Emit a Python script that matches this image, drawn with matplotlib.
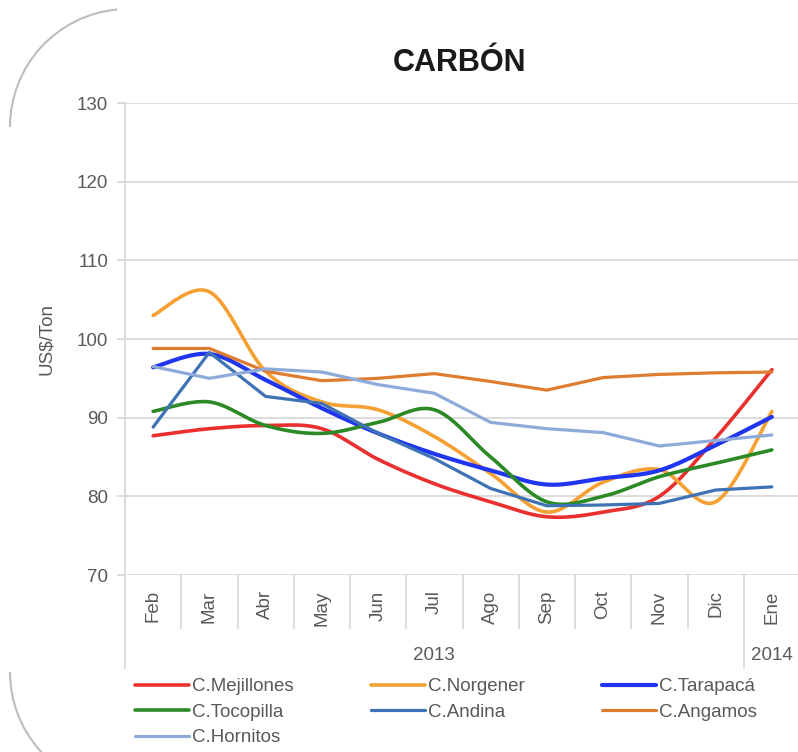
import numpy as np
import matplotlib.pyplot as plt
from matplotlib.patches import Arc
import matplotlib.transforms as mtransforms

plt.rcParams['font.family'] = ['Liberation Sans', 'DejaVu Sans']

# --- data (US$/Ton, Feb 2013 .. Ene 2014) ---
months = ['Feb', 'Mar', 'Abr', 'May', 'Jun', 'Jul', 'Ago', 'Sep', 'Oct', 'Nov', 'Dic', 'Ene']
mejillones = [87.7, 88.6, 89.0, 88.6, 84.7, 81.6, 79.3, 77.4, 78.0, 80.0, 87.4, 96.1]
norgener = [103.0, 106.0, 95.9, 92.0, 91.0, 87.6, 82.9, 78.0, 81.8, 83.4, 79.3, 90.8]
tarapaca = [96.4, 98.1, 94.8, 91.2, 88.0, 85.4, 83.3, 81.5, 82.3, 83.3, 86.5, 90.1]
tocopilla = [90.8, 92.0, 89.0, 88.0, 89.4, 91.0, 85.0, 79.3, 80.0, 82.5, 84.2, 85.9]
andina = [88.8, 98.3, 92.7, 91.8, 88.0, 84.8, 81.0, 78.8, 78.9, 79.1, 80.8, 81.2]
angamos = [98.8, 98.8, 95.9, 94.7, 95.0, 95.6, 94.6, 93.5, 95.1, 95.5, 95.7, 95.8]
hornitos = [96.5, 95.0, 96.2, 95.8, 94.2, 93.1, 89.4, 88.6, 88.1, 86.4, 87.1, 87.8]

series = [
    ('C.Mejillones', mejillones, '#EA2F2F', 2.6, True),
    ('C.Norgener', norgener, '#F5A033', 2.6, True),
    ('C.Tarapacá', tarapaca, '#1F35F0', 3.0, True),
    ('C.Tocopilla', tocopilla, '#2B8A26', 2.6, True),
    ('C.Andina', andina, '#3E72B5', 2.3, False),
    ('C.Angamos', angamos, '#DE7C30', 2.3, False),
    ('C.Hornitos', hornitos, '#8EAAD8', 2.3, False),
]


def smooth(x, y, n=24):
    # Excel-like smoothed line: cubic Bezier through the points
    x = np.asarray(x, float)
    y = np.asarray(y, float)
    px = np.concatenate([[x[0]], x, [x[-1]]])
    py = np.concatenate([[y[0]], y, [y[-1]]])
    xs, ys = [], []
    t = np.linspace(0, 1, n)
    for i in range(1, len(px) - 2):
        p0 = np.array([px[i - 1], py[i - 1]])
        p1 = np.array([px[i], py[i]])
        p2 = np.array([px[i + 1], py[i + 1]])
        p3 = np.array([px[i + 2], py[i + 2]])
        c1 = p1 + (p2 - p0) / 6
        c2 = p2 - (p3 - p1) / 6
        b = (((1 - t) ** 3)[:, None] * p1 + (3 * (1 - t) ** 2 * t)[:, None] * c1
             + (3 * (1 - t) * t ** 2)[:, None] * c2 + (t ** 3)[:, None] * p2)
        xs.extend(b[:, 0])
        ys.extend(b[:, 1])
    return np.array(xs), np.array(ys)


fig = plt.figure(figsize=(7.98, 7.52), dpi=100)
ax = fig.add_axes([125 / 798, 1 - 575 / 752, 675 / 798, 472 / 752])

x = np.arange(len(months))
handles = {}
for name, vals, color, lw, smoothed in series:
    if smoothed:
        sx, sy = smooth(x, vals)
    else:
        sx, sy = x, vals
    ln, = ax.plot(sx, sy, color=color, lw=lw, solid_capstyle='round',
                  solid_joinstyle='round', label=name)
    handles[name] = ln

grid_c = '#D9D9D9'
ax.set_ylim(70, 130)
ax.set_xlim(-0.5, len(months) - 0.5)
ax.set_yticks(range(70, 131, 10))
ax.yaxis.grid(True, color=grid_c, lw=1.3)
ax.set_axisbelow(True)
for s in ['top', 'right', 'bottom']:
    ax.spines[s].set_visible(False)
ax.spines['left'].set_color(grid_c)
ax.spines['left'].set_linewidth(1.3)
ax.tick_params(axis='y', colors=grid_c, labelcolor='#595959', labelsize=13.5,
               length=6, width=1.3, pad=6)

ax.set_xticks(x)
ax.set_xticklabels(months, rotation=90, color='#595959', fontsize=13.5)
ax.tick_params(axis='x', length=0, pad=11)

# category dividers below the axis
trans = mtransforms.blended_transform_factory(ax.transData, ax.transAxes)
for b in np.arange(0.5, len(months) - 1, 1.0):
    bottom = -93 / 472 if b == len(months) - 1.5 else -53 / 472
    ax.plot([b, b], [0, bottom], color=grid_c, lw=1.3, transform=trans, clip_on=False)
ax.plot([-0.5, -0.5], [0, -93 / 472], color=grid_c, lw=1.3, transform=trans, clip_on=False)

# year labels
ax.text((len(months) - 2) / 2, -80 / 472, '2013', transform=trans, ha='center',
        va='center', fontsize=13.5, color='#595959')
ax.text(len(months) - 1, -80 / 472, '2014', transform=trans, ha='center',
        va='center', fontsize=13.5, color='#595959')

ax.set_ylabel('US$/Ton', fontsize=13.5, color='#595959', labelpad=16)
fig.text(460 / 798, 1 - 63 / 752, 'CARBÓN', ha='center', va='center',
         fontsize=22, fontweight='bold', color='#1A1A1A')

order = ['C.Mejillones', 'C.Tocopilla', 'C.Hornitos', 'C.Norgener', 'C.Andina',
         'C.Tarapacá', 'C.Angamos']
leg = fig.legend([handles[n] for n in order], order, ncol=3, frameon=False,
                 loc='upper left', bbox_to_anchor=(135 / 798, 1 - 678 / 752),
                 fontsize=13.5, handlelength=2.9, handletextpad=0.15,
                 columnspacing=4.1, labelspacing=0.45, borderaxespad=0,
                 borderpad=0)
for t in leg.get_texts():
    t.set_color('#595959')

# rounded border remnants on the left side
r = 118
fig.patches.append(Arc((128 / 798, 1 - 127 / 752), 2 * r / 798, 2 * r / 752,
                       theta1=95, theta2=180, color='#BDBDBD', lw=1.5,
                       transform=fig.transFigure))
fig.patches.append(Arc((128 / 798, 1 - 672 / 752), 2 * r / 798, 2 * r / 752,
                       theta1=180, theta2=262, color='#BDBDBD', lw=1.5,
                       transform=fig.transFigure))

fig.savefig('out.png', dpi=100)
